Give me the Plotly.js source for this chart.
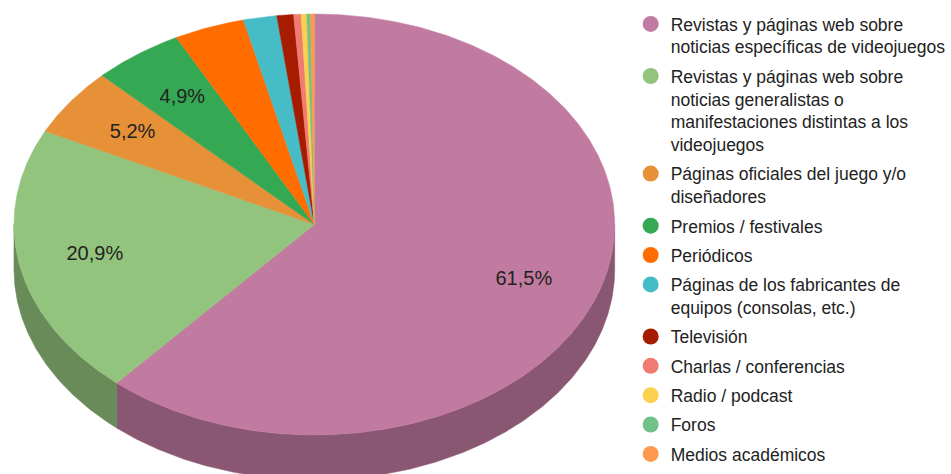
<!DOCTYPE html>
<html>
<head>
<meta charset="utf-8">
<script src="https://cdn.plot.ly/plotly-3.0.1.min.js"></script>
<style>html,body{margin:0;padding:0;background:#fff;}#chart{width:951px;height:474px;}</style>
</head>
<body>
<div id="chart"></div>
<script>
// ---- data ----
const categories = [
  "Revistas y páginas web sobre<br>noticias específicas de videojuegos",
  "Revistas y páginas web sobre<br>noticias generalistas o<br>manifestaciones distintas a los<br>videojuegos",
  "Páginas oficiales del juego y/o<br>diseñadores",
  "Premios / festivales",
  "Periódicos",
  "Páginas de los fabricantes de<br>equipos (consolas, etc.)",
  "Televisión",
  "Charlas / conferencias",
  "Radio / podcast",
  "Foros",
  "Medios académicos"
];
const values = [61.5, 20.9, 5.2, 4.9, 3.8, 1.8, 0.9, 0.4, 0.3, 0.2, 0.2];
const colors = ["#c27ba0", "#93c47d", "#e69138", "#34a853", "#ff6d01", "#46bdc6",
                "#a61c00", "#f07b72", "#fcd04f", "#71c287", "#ff994d"];
const labelThreshold = 4.5; // slices with smaller share get no label

// ---- geometry (pixel space via axes) ----
const W = 951, H = 474;
const CX = 315, CY = 224.5, RX = 301, RY = 210.5, DEPTH = 45, LABEL_F = 0.745;

function darken(hex, f) {
  const n = parseInt(hex.slice(1), 16);
  const r = Math.round(((n >> 16) & 255) * f), g = Math.round(((n >> 8) & 255) * f), b = Math.round((n & 255) * f);
  return "rgb(" + r + "," + g + "," + b + ")";
}
function pt(deg, dy) {
  const t = deg * Math.PI / 180;
  return [CX + RX * Math.sin(t), CY - RY * Math.cos(t) + (dy || 0)];
}
function arc(a0, a1, dy) {
  const n = Math.max(2, Math.ceil((a1 - a0) / 0.5) + 1);
  const xs = [], ys = [];
  for (let i = 0; i < n; i++) {
    const p = pt(a0 + (a1 - a0) * i / (n - 1), dy);
    xs.push(p[0]); ys.push(p[1]);
  }
  return [xs, ys];
}

const total = values.reduce((a, b) => a + b, 0);
const sideTraces = [], topTraces = [], labelX = [], labelY = [], labelT = [];
let cum = 0;
values.forEach((v, i) => {
  const a0 = cum / total * 360, a1 = (cum + v) / total * 360;
  cum += v;
  // side (front half only: 90..270 deg)
  const s0 = Math.max(a0, 90), s1 = Math.min(a1, 270);
  if (s1 > s0) {
    const top = arc(s0, s1, 0), bot = arc(s0, s1, DEPTH);
    const xs = top[0].concat(bot[0].slice().reverse());
    const ys = top[1].concat(bot[1].slice().reverse());
    xs.push(xs[0]); ys.push(ys[0]);
    sideTraces.push({type: "scatter", mode: "lines", x: xs, y: ys, fill: "toself",
      fillcolor: darken(colors[i], 0.71), line: {color: darken(colors[i], 0.71), width: 0.5},
      showlegend: false, hoverinfo: "skip"});
  }
  // top face
  const a = arc(a0, a1, 0);
  const xs = [CX].concat(a[0]).concat([CX]);
  const ys = [CY].concat(a[1]).concat([CY]);
  topTraces.push({type: "scatter", mode: "lines", x: xs, y: ys, fill: "toself",
    fillcolor: colors[i], line: {color: colors[i], width: 0.5},
    showlegend: false, hoverinfo: "skip"});
  if (v >= labelThreshold) {
    const m = (a0 + a1) / 2 * Math.PI / 180;
    labelX.push(CX + RX * LABEL_F * Math.sin(m));
    labelY.push(CY - RY * LABEL_F * Math.cos(m));
    labelT.push(v.toFixed(1).replace(".", ",") + "%");
  }
});

const labelTrace = {type: "scatter", mode: "text", x: labelX, y: labelY, text: labelT,
  textposition: "middle center",
  textfont: {family: "Liberation Sans, Arial, sans-serif", size: 20, color: "#222222"},
  showlegend: false, hoverinfo: "skip"};

const legendTraces = categories.map((c, i) => ({
  type: "scatter", mode: "markers", x: [null], y: [null], name: c,
  legendgroup: "g" + i,
  marker: {symbol: "circle", size: 16, color: colors[i]}, hoverinfo: "skip"
}));

const layout = {
  width: W, height: H,
  margin: {l: 0, r: 0, t: 0, b: 0},
  paper_bgcolor: "#ffffff", plot_bgcolor: "#ffffff",
  xaxis: {range: [0, W], visible: false, fixedrange: true},
  yaxis: {range: [H, 0], visible: false, fixedrange: true},
  showlegend: true,
  legend: {
    x: 632 / W, y: 1 - 6 / H, xanchor: "left", yanchor: "top",
    valign: "top", traceorder: "grouped", tracegroupgap: 3.6,
    font: {family: "Liberation Sans, Arial, sans-serif", size: 17.5, color: "#222222"},
    bgcolor: "rgba(0,0,0,0)", borderwidth: 0
  }
};

Plotly.newPlot("chart", sideTraces.concat(topTraces).concat([labelTrace]).concat(legendTraces), layout,
  {displayModeBar: false, staticPlot: true});
</script>
</body>
</html>
